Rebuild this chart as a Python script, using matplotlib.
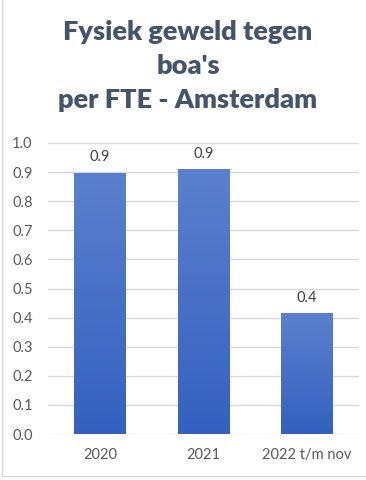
import matplotlib
matplotlib.use("Agg")
import matplotlib.pyplot as plt
import numpy as np
from matplotlib.colors import LinearSegmentedColormap
from matplotlib.lines import Line2D

categories = ["2020", "2021", "2022 t/m nov"]
values = [0.898, 0.911, 0.415]
labels = ["0.9", "0.9", "0.4"]
yticks = [0.0, 0.1, 0.2, 0.3, 0.4, 0.5, 0.6, 0.7, 0.8, 0.9, 1.0]
title = "Fysiek geweld tegen\nboa's\nper FTE - Amsterdam"

W, H = 366, 480
fig = plt.figure(figsize=(W / 100, H / 100), dpi=100)
fig.patch.set_facecolor("white")
ax = fig.add_axes([48 / W, 1 - 434 / H, (359 - 48) / W, (434 - 143) / H])

x = np.arange(len(categories))
bars = ax.bar(x, values, width=0.5, color="#4770C6", zorder=2)
cmap = LinearSegmentedColormap.from_list("g", ["#3461C0", "#5B80CD"])
for b in bars:
    x0, y0 = b.get_x(), b.get_y()
    w, h = b.get_width(), b.get_height()
    grad = np.linspace(0, 1, 256).reshape(-1, 1)
    im = ax.imshow(grad, cmap=cmap, aspect="auto", origin="lower",
                   extent=[x0, x0 + w, y0, y0 + h], zorder=3)
    im.set_clip_path(b)

for xi, v, lab in zip(x, values, labels):
    ax.annotate(lab, (xi, v), xytext=(0, 6), textcoords="offset points",
                ha="center", va="bottom", fontsize=10.5, color="#404040",
                family="Lato")

ax.set_xlim(-0.5, 2.5)
ax.set_ylim(0, 1.0)
ax.set_yticks(yticks)
ax.set_yticklabels([f"{t:.1f}" for t in yticks])
ax.set_xticks(x)
ax.set_xticklabels(categories)
ax.grid(axis="y", color="#D9D9D9", linewidth=1, zorder=0)
ax.set_axisbelow(True)
for s in ax.spines.values():
    s.set_visible(False)
ax.tick_params(axis="both", length=0, labelsize=10.5, labelcolor="#595959")
ax.tick_params(axis="y", pad=11)
ax.tick_params(axis="x", pad=10)
for t in ax.get_xticklabels() + ax.get_yticklabels():
    t.set_family("Lato")

fig.text(188 / W, 1 - 66 / H, title, ha="center", va="center", fontsize=19.5,
         fontweight="heavy", color="#44546A", family="Lato", linespacing=1.5)

fig.add_artist(Line2D([1.5 / W, 1.5 / W], [4 / H, 1], transform=fig.transFigure,
                      color="#D9D9D9", linewidth=1))
fig.add_artist(Line2D([1.5 / W, 1], [4 / H, 4 / H], transform=fig.transFigure,
                      color="#D9D9D9", linewidth=1))

fig.savefig("out.png", dpi=100)
